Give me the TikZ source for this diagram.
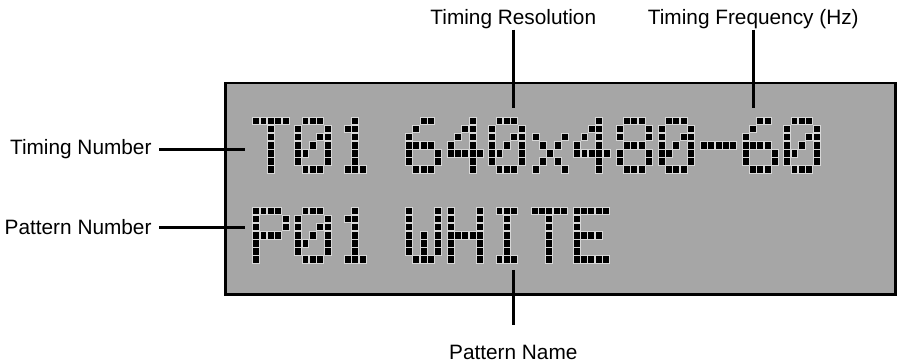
\documentclass[tikz,border=0pt]{standalone}
\usepackage{fontspec}
\setmainfont{Liberation Sans}
\definecolor{lcdgray}{RGB}{166,166,166}
\definecolor{dotedge}{RGB}{215,215,215}
\makeatletter
\newcount\dm@c \newcount\dm@r
\def\dmglyph#1#2#3{\def\dm@x{#1}\def\dm@y{#2}\dm@c=0 \dm@r=0 \expandafter\dm@parse#3\relax}
\def\dm@parse#1{\ifx#1\relax\else
 \ifnum#1=1 \path[dmdot] ({\dm@x+\the\dm@c*7.35+0.25},{\dm@y+\the\dm@r*8.1+0.25}) rectangle ++(6.85,7.6);\fi
 \advance\dm@c by 1 \ifnum\dm@c=5 \dm@c=0 \advance\dm@r by 1 \fi
 \expandafter\dm@parse\fi}
\makeatother
\def\gT{11111 00100 00100 00100 00100 00100 00100}
\def\gZero{01110 10001 10011 10101 11001 10001 01110}
\def\gOne{00100 01100 00100 00100 00100 00100 01110}
\def\gSix{00110 01000 10000 11110 10001 10001 01110}
\def\gFour{00010 00110 01010 10010 11111 00010 00010}
\def\gX{00000 00000 10001 01010 00100 01010 10001}
\def\gEight{01110 10001 10001 01110 10001 10001 01110}
\def\gDash{00000 00000 00000 11111 00000 00000 00000}
\def\gP{11110 10001 10001 11110 10000 10000 10000}
\def\gW{10001 10001 10001 10101 10101 10101 01110}
\def\gH{10001 10001 10001 11111 10001 10001 10001}
\def\gI{01110 00100 00100 00100 00100 00100 01110}
\def\gE{11111 10000 10000 11110 10000 10000 11111}
\tikzset{
  dmdot/.style={fill=black, draw=dotedge, line width=0.6pt},
  lbl/.style={inner sep=0pt, font=\fontsize{20.8}{25}\selectfont},
  callout/.style={line width=2.8pt},
  lcd/.style={fill=lcdgray, draw=black, line width=2.7pt}
}
\begin{document}
\begin{tikzpicture}[x=1pt,y=-1pt]
\useasboundingbox (0,0) rectangle (897,363);
% display
\path[lcd] (225.4,83) rectangle (895.6,294.6);
% line 1: T01 640x480-60
\def\ya{116.7}
\dmglyph{252.3}{\ya}{\gT}
\dmglyph{294.3}{\ya}{\gZero}
\dmglyph{336.7}{\ya}{\gOne}
\dmglyph{405}{\ya}{\gSix}
\dmglyph{446.7}{\ya}{\gFour}
\dmglyph{488.3}{\ya}{\gZero}
\dmglyph{531.7}{\ya}{\gX}
\dmglyph{573.3}{\ya}{\gFour}
\dmglyph{615.7}{\ya}{\gEight}
\dmglyph{657.7}{\ya}{\gZero}
\dmglyph{700}{\ya}{\gDash}
\dmglyph{741.7}{\ya}{\gSix}
\dmglyph{783.3}{\ya}{\gZero}
% line 2: P01 WHITE
\def\yb{206.7}
\dmglyph{252.3}{\yb}{\gP}
\dmglyph{294.3}{\yb}{\gZero}
\dmglyph{336.7}{\yb}{\gOne}
\dmglyph{405}{\yb}{\gW}
\dmglyph{446.7}{\yb}{\gH}
\dmglyph{488.3}{\yb}{\gI}
\dmglyph{530.7}{\yb}{\gT}
\dmglyph{572.7}{\yb}{\gE}
% labels
\node[lbl, anchor=base east, inner xsep=7.6pt] (tn) at (159.3,155) {Timing Number};
\node[lbl, anchor=base east, inner xsep=7.6pt] (pn) at (159.3,235) {Pattern Number};
\node[lbl, anchor=base] (tr) at (513.3,25) {Timing Resolution};
\node[lbl, anchor=base] (tf) at (753.3,25) {Timing Frequency (Hz)};
\node[lbl, anchor=base] (pname) at (513.3,359.3) {Pattern Name};
% callout ends
\coordinate (tnE) at (245,149.3);
\coordinate (pnE) at (245,227.3);
\coordinate (trE) at (513.3,108.3);
\coordinate (tfE) at (753.3,108.3);
\coordinate (pnameS) at (513.3,270);
\draw[callout] (tn.east |- tnE) -- (tnE);
\draw[callout] (pn.east |- pnE) -- (pnE);
\draw[callout] (tr.south) -- (trE);
\draw[callout] (tf.south) -- (tfE);
\draw[callout] (pnameS) -- ([yshift=19.3pt]pname.north);
\end{tikzpicture}
\end{document}
